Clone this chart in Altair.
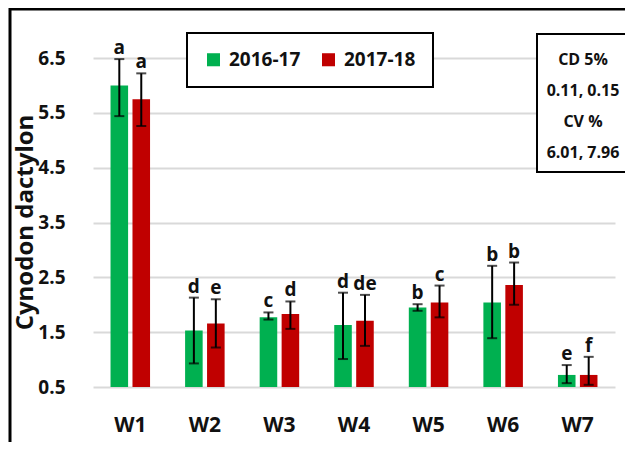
import altair as alt
import pandas as pd

weeks = ["W1", "W2", "W3", "W4", "W5", "W6", "W7"]
seasons = ["2016-17", "2017-18"]
colors = ["#00b050", "#c00000"]

mean_1617 = [6.00, 1.53, 1.77, 1.63, 1.95, 2.04, 0.72]
mean_1718 = [5.75, 1.66, 1.83, 1.71, 2.04, 2.36, 0.72]
hi_1617 = [6.48, 2.13, 1.86, 2.22, 2.01, 2.71, 0.90]
lo_1617 = [5.44, 0.93, 1.73, 1.01, 1.89, 1.39, 0.57]
hi_1718 = [6.22, 2.10, 2.06, 2.18, 2.35, 2.77, 1.05]
lo_1718 = [5.26, 1.22, 1.56, 1.25, 1.77, 2.00, 0.54]
letters_1617 = ["a", "d", "c", "d", "b", "b", "e"]
letters_1718 = ["a", "e", "d", "de", "c", "b", "f"]

y_ticks = [0.5, 1.5, 2.5, 3.5, 4.5, 5.5, 6.5]
cd_lines = ["CD 5%", "0.11, 0.15", "CV %", "6.01, 7.96"]

FONT = "Open Sans"
TXT = "#111111"

rows = []
for i, w in enumerate(weeks):
    rows.append(dict(week=w, season=seasons[0], mean=mean_1617[i], hi=hi_1617[i], lo=lo_1617[i], letter=letters_1617[i]))
    rows.append(dict(week=w, season=seasons[1], mean=mean_1718[i], hi=hi_1718[i], lo=lo_1718[i], letter=letters_1718[i]))
df = pd.DataFrame(rows)

x_enc = alt.X("week:N", sort=weeks,
              scale=alt.Scale(paddingInner=0.47, paddingOuter=0.235),
              axis=alt.Axis(title=None, labelAngle=0, labelFont=FONT, labelFontSize=21,
                            labelFontWeight="bold", labelColor=TXT, labelPadding=27,
                            ticks=False, tickSize=0, domain=False, grid=False))
xo_enc = alt.XOffset("season:N", sort=seasons, scale=alt.Scale(paddingInner=0.2, paddingOuter=0))
y_scale = alt.Scale(domain=[0.5, 6.5], zero=False, nice=False)

base = alt.Chart(df)

bars = base.mark_bar().encode(
    x=x_enc,
    xOffset=xo_enc,
    y=alt.Y("mean:Q", scale=y_scale,
            axis=alt.Axis(values=y_ticks, format=".1f", title="Cynodon dactylon",
                          labelFont=FONT, labelFontSize=19, labelFontWeight="bold",
                          labelColor=TXT, labelPadding=28, ticks=False, tickSize=0,
                          domain=False, grid=True, gridColor="#d9d9d9", gridWidth=2,
                          titleFont=FONT, titleFontSize=24, titleFontWeight="bold",
                          titleColor=TXT, titleAngle=270, titleX=-68, titleY=164,
                          titleAlign="center", titleBaseline="middle")),
    y2=alt.datum(0.5),
    color=alt.Color("season:N", sort=seasons, scale=alt.Scale(domain=seasons, range=colors),
                    legend=alt.Legend(title=None, orient="none", legendX=94, legendY=-25,
                                      direction="horizontal", symbolType="square",
                                      symbolSize=170, symbolStrokeWidth=0,
                                      labelFont=FONT, labelFontSize=19, labelFontWeight="bold",
                                      labelColor=TXT, labelOffset=6, columnPadding=18,
                                      padding=17, strokeColor="black", fillColor="white")),
)

err = base.mark_rule(color="black", strokeWidth=2).encode(
    x=alt.X("week:N", sort=weeks), xOffset=alt.XOffset("season:N", sort=seasons),
    y=alt.Y("lo:Q", scale=y_scale), y2="hi:Q")

cap_hi = base.mark_tick(color="black", size=10, thickness=2).encode(
    x=alt.X("week:N", sort=weeks), xOffset=alt.XOffset("season:N", sort=seasons),
    y=alt.Y("hi:Q", scale=y_scale))
cap_lo = base.mark_tick(color="black", size=10, thickness=2).encode(
    x=alt.X("week:N", sort=weeks), xOffset=alt.XOffset("season:N", sort=seasons),
    y=alt.Y("lo:Q", scale=y_scale))

labels = base.mark_text(font=FONT, fontSize=19, fontWeight="bold", color=TXT,
                        baseline="alphabetic", dy=-5).encode(
    x=alt.X("week:N", sort=weeks), xOffset=alt.XOffset("season:N", sort=seasons),
    y=alt.Y("hi:Q", scale=y_scale), text="letter:N")

one = alt.Chart(pd.DataFrame({"k": [0]}))
cd_box = one.mark_rect(fill="white", stroke="black", strokeWidth=2).encode(
    x=alt.value(444), x2=alt.value(536), y=alt.value(-24), y2=alt.value(114))
cd_text = one.mark_text(text=cd_lines, lineHeight=31, font=FONT, fontSize=16,
                        fontWeight="bold", color=TXT, align="center", baseline="middle").encode(
    x=alt.value(490), y=alt.value(2))
frame_left = one.mark_rule(color="black", strokeWidth=3).encode(
    x=alt.value(-83), y=alt.value(-50), y2=alt.value(400))
frame_top = one.mark_rule(color="black", strokeWidth=3).encode(
    x=alt.value(-83), x2=alt.value(560), y=alt.value(-49))

chart = alt.layer(bars, err, cap_hi, cap_lo, labels, cd_box, cd_text, frame_left, frame_top).properties(
    width=522, height=329,
    autosize=alt.AutoSizeParams(type="none"),
    padding={"left": 85, "top": 50, "right": 10, "bottom": 55},
).configure_view(stroke=None).configure_legend(strokeWidth=2)

chart.save("out.html", embed_options={"renderer": "svg", "actions": False})
